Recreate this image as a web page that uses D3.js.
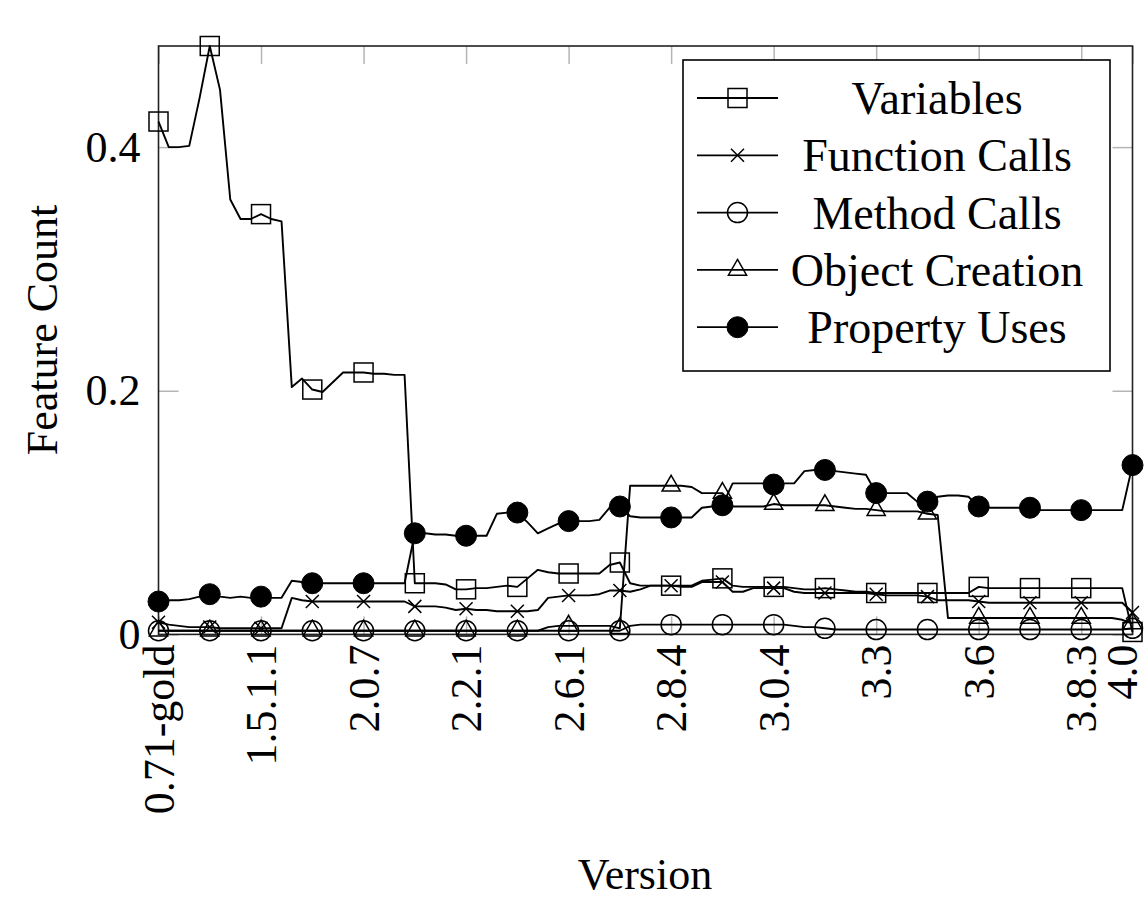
<!DOCTYPE html>
<html><head><meta charset="utf-8">
<script src="https://cdn.jsdelivr.net/npm/d3@7"></script>
<style>html,body{margin:0;padding:0;background:#fff;} svg{display:block;}</style>
</head><body>
<svg id="chart" width="1148" height="898"></svg>
<script>
// ---- data ----
const tickIndex = [0, 10, 20, 30, 40, 50, 60, 70, 80, 90, 95];
const tickLabels = ["0.71-gold", "1.5.1.1", "2.0.7", "2.2.1", "2.6.1", "2.8.4", "3.0.4", "3.3", "3.6", "3.8.3", "4.0"];
const yTicks = [0, 0.2, 0.4];
const seriesNames = ["Variables", "Function Calls", "Method Calls", "Object Creation", "Property Uses"];

const variables = [
  0.421,0.400,0.400,0.401,0.440,0.483,0.447,0.357,0.341,0.341,
  0.345,0.341,0.339,0.203,0.210,0.201,0.199,0.207,0.215,0.215,
  0.215,0.214,0.214,0.213,0.213,0.042,0.042,0.042,0.041,0.037,
  0.037,0.038,0.038,0.039,0.040,0.039,0.046,0.053,0.051,0.050,
  0.050,0.050,0.050,0.050,0.057,0.059,0.042,0.040,0.040,0.040,
  0.040,0.040,0.040,0.044,0.045,0.046,0.040,0.039,0.039,0.039,
  0.039,0.039,0.038,0.037,0.037,0.038,0.037,0.036,0.035,0.035,
  0.034,0.034,0.034,0.034,0.034,0.034,0.034,0.034,0.034,0.034,
  0.039,0.038,0.038,0.038,0.038,0.038,0.038,0.038,0.038,0.038,
  0.038,0.038,0.038,0.038,0.038,0.002
];
const functionCalls = [
  0.010,0.008,0.007,0.006,0.006,0.006,0.005,0.005,0.005,0.005,
  0.005,0.005,0.005,0.030,0.028,0.027,0.027,0.027,0.027,0.027,
  0.027,0.027,0.027,0.027,0.027,0.023,0.023,0.023,0.022,0.020,
  0.021,0.020,0.020,0.019,0.019,0.019,0.019,0.020,0.030,0.031,
  0.032,0.032,0.032,0.033,0.036,0.036,0.035,0.037,0.040,0.040,
  0.040,0.039,0.039,0.043,0.043,0.043,0.035,0.035,0.038,0.038,
  0.038,0.038,0.035,0.034,0.034,0.034,0.034,0.034,0.034,0.034,
  0.033,0.032,0.032,0.032,0.032,0.031,0.028,0.028,0.028,0.028,
  0.027,0.026,0.026,0.026,0.026,0.026,0.026,0.026,0.026,0.026,
  0.026,0.026,0.026,0.026,0.026,0.018
];
const methodCalls = [
  0.003,0.003,0.003,0.003,0.003,0.003,0.003,0.003,0.003,0.003,
  0.003,0.003,0.003,0.003,0.003,0.003,0.003,0.003,0.003,0.003,
  0.003,0.003,0.003,0.003,0.003,0.003,0.003,0.003,0.003,0.003,
  0.003,0.003,0.003,0.003,0.003,0.003,0.003,0.003,0.003,0.003,
  0.003,0.003,0.003,0.003,0.003,0.003,0.007,0.008,0.008,0.008,
  0.008,0.008,0.008,0.008,0.008,0.008,0.008,0.008,0.008,0.008,
  0.008,0.008,0.007,0.006,0.006,0.005,0.004,0.004,0.004,0.004,
  0.004,0.004,0.004,0.004,0.004,0.004,0.004,0.004,0.004,0.004,
  0.004,0.004,0.004,0.004,0.004,0.004,0.004,0.004,0.004,0.004,
  0.004,0.004,0.004,0.004,0.004,0.005
];
const objectCreation = [
  0.003,0.003,0.003,0.003,0.003,0.003,0.003,0.003,0.003,0.003,
  0.003,0.003,0.003,0.003,0.003,0.003,0.003,0.003,0.003,0.003,
  0.003,0.003,0.003,0.003,0.003,0.003,0.003,0.003,0.003,0.003,
  0.003,0.003,0.003,0.003,0.003,0.003,0.003,0.003,0.006,0.007,
  0.007,0.007,0.007,0.007,0.007,0.005,0.122,0.122,0.122,0.122,
  0.122,0.122,0.121,0.116,0.116,0.116,0.105,0.105,0.105,0.105,
  0.107,0.106,0.106,0.106,0.106,0.106,0.105,0.104,0.103,0.103,
  0.102,0.101,0.101,0.101,0.101,0.099,0.098,0.0135,0.0135,0.0135,
  0.0135,0.0135,0.0135,0.0135,0.0135,0.0135,0.0135,0.0135,0.0135,0.0135,
  0.0135,0.0135,0.0135,0.0135,0.012,0.009
];
const propertyUses = [
  0.027,0.028,0.028,0.029,0.031,0.033,0.031,0.030,0.031,0.030,
  0.031,0.030,0.030,0.044,0.043,0.042,0.042,0.042,0.042,0.042,
  0.042,0.042,0.042,0.042,0.042,0.083,0.083,0.082,0.082,0.081,
  0.081,0.081,0.081,0.099,0.100,0.100,0.092,0.083,0.087,0.091,
  0.093,0.093,0.093,0.094,0.104,0.105,0.097,0.096,0.096,0.096,
  0.096,0.096,0.096,0.104,0.105,0.106,0.124,0.124,0.124,0.124,
  0.123,0.124,0.124,0.134,0.135,0.135,0.134,0.133,0.132,0.131,
  0.116,0.116,0.116,0.116,0.109,0.109,0.113,0.114,0.114,0.113,
  0.105,0.104,0.104,0.104,0.104,0.104,0.102,0.102,0.102,0.102,
  0.102,0.102,0.102,0.102,0.102,0.139
];
const seriesValues = [variables, functionCalls, methodCalls, objectCreation, propertyUses];
const markTypes = ["square", "cross", "circle", "triangle", "dot"];

// ---- layout ----
const FONT = "'Liberation Serif','Times New Roman',serif";
const svg = d3.select("#chart");
const n = variables.length;
const x = d3.scaleLinear().domain([0, n - 1]).range([158.5, 1132.5]);
const y = d3.scaleLinear().domain([0, 0.483]).range([634.4, 46]);

// ticks (inner, gray)
const tickCol = "#b5b5b5";
function styleAxis(g) {
  g.select(".domain").remove();
  g.selectAll(".tick line").attr("stroke", tickCol).attr("stroke-width", 1.5);
  g.selectAll("text").attr("font-family", FONT).attr("font-size", 44).attr("fill", "#000");
}
svg.append("g").attr("transform", `translate(0,${y(0)})`)
  .call(d3.axisBottom(x).tickValues(tickIndex).tickFormat((d, i) => tickLabels[i]).tickSizeInner(-18).tickSizeOuter(0).tickPadding(10))
  .call(styleAxis)
  .call(g => g.selectAll("text")
    .attr("transform", (d, i) => i === tickIndex.length - 1 ? "translate(-11,0) rotate(-90)" : "rotate(-90)")
    .attr("text-anchor", "end")
    .attr("x", -10).attr("y", 0).attr("dy", "0.33em"));
svg.append("g").attr("transform", `translate(0,${y.range()[1]})`)
  .call(d3.axisTop(x).tickValues(tickIndex).tickFormat("").tickSizeInner(-18).tickSizeOuter(0))
  .call(styleAxis);
svg.append("g").attr("transform", `translate(${x.range()[0]},0)`)
  .call(d3.axisLeft(y).tickValues(yTicks).tickFormat(d => d === 0 ? "0" : d3.format(".1f")(d)).tickSizeInner(-20).tickSizeOuter(0).tickPadding(18))
  .call(styleAxis);
svg.append("g").attr("transform", `translate(${x.range()[1]},0)`)
  .call(d3.axisRight(y).tickValues(yTicks).tickFormat("").tickSizeInner(-20).tickSizeOuter(0))
  .call(styleAxis);

// frame
svg.append("rect")
  .attr("x", x.range()[0]).attr("y", y.range()[1])
  .attr("width", x.range()[1] - x.range()[0]).attr("height", y.range()[0] - y.range()[1])
  .attr("fill", "none").attr("stroke", "#222").attr("stroke-width", 1.6);

// markers
function drawMark(g, type, cx, cy) {
  const s = "#000", w = 1.5;
  if (type === "square") {
    g.append("rect").attr("x", cx - 9.5).attr("y", cy - 9.5).attr("width", 19).attr("height", 19)
      .attr("fill", "none").attr("stroke", s).attr("stroke-width", w);
  } else if (type === "cross") {
    const a = 6.5;
    g.append("path").attr("d", `M${cx - a},${cy - a}L${cx + a},${cy + a}M${cx - a},${cy + a}L${cx + a},${cy - a}`)
      .attr("fill", "none").attr("stroke", s).attr("stroke-width", w);
  } else if (type === "circle") {
    g.append("circle").attr("cx", cx).attr("cy", cy).attr("r", 10)
      .attr("fill", "none").attr("stroke", s).attr("stroke-width", w);
  } else if (type === "triangle") {
    const r = 10.5;
    g.append("path").attr("d", `M${cx},${cy - r}L${cx + r * 0.866},${cy + r * 0.5}L${cx - r * 0.866},${cy + r * 0.5}Z`)
      .attr("fill", "none").attr("stroke", s).attr("stroke-width", w);
  } else if (type === "dot") {
    g.append("circle").attr("cx", cx).attr("cy", cy).attr("r", 10.5)
      .attr("fill", "#000").attr("stroke", s).attr("stroke-width", 1);
  }
}

const line = d3.line().x((d, i) => x(i)).y(d => y(d));
const plot = svg.append("g");
seriesValues.forEach((vals, k) => {
  const g = plot.append("g");
  g.append("path").datum(vals).attr("d", line)
    .attr("fill", "none").attr("stroke", "#000").attr("stroke-width", 1.9).attr("stroke-linejoin", "round");
  vals.forEach((v, i) => { if (i % 5 === 0) drawMark(g, markTypes[k], x(i), y(v)); });
});

// legend
const lg = svg.append("g");
lg.append("rect").attr("x", 683).attr("y", 60).attr("width", 427).attr("height", 311)
  .attr("fill", "#fff").attr("stroke", "#000").attr("stroke-width", 1.6);
seriesNames.forEach((name, k) => {
  const cy = 98 + k * 57.3;
  lg.append("line").attr("x1", 697).attr("x2", 778).attr("y1", cy).attr("y2", cy)
    .attr("stroke", "#000").attr("stroke-width", 1.8);
  drawMark(lg, markTypes[k], 737.5, cy);
  lg.append("text").attr("x", 937).attr("y", cy).attr("dy", "0.35em")
    .attr("text-anchor", "middle").attr("font-family", FONT).attr("font-size", 46).text(name);
});

// axis titles
svg.append("text").attr("transform", "translate(42,330) rotate(-90)").attr("dy", "0.35em")
  .attr("text-anchor", "middle").attr("font-family", FONT).attr("font-size", 44).text("Feature Count");
svg.append("text").attr("x", 645).attr("y", 889)
  .attr("text-anchor", "middle").attr("font-family", FONT).attr("font-size", 44).text("Version");
</script>
</body></html>
